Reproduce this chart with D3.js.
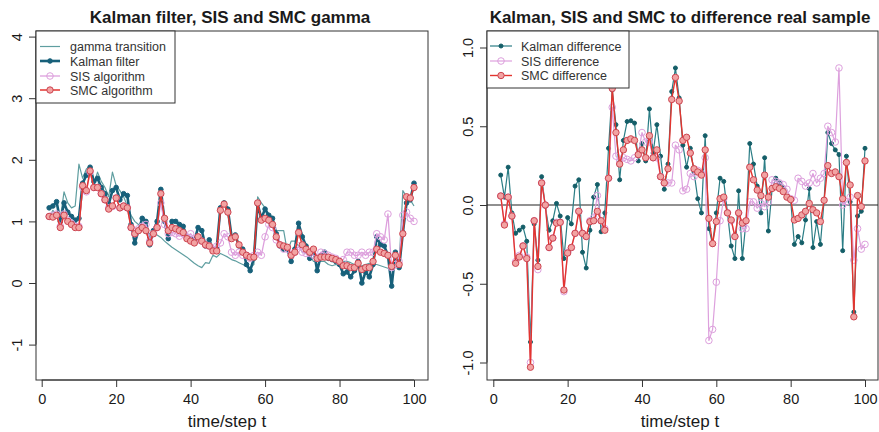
<!DOCTYPE html>
<html>
<head>
<meta charset="utf-8">
<script src="https://cdn.jsdelivr.net/npm/d3@7"></script>
<style>
  body { margin: 0; background: #fff; }
  svg text { font-family: "Liberation Sans", Arial, sans-serif; fill: #1a1a1a; }
</style>
</head>
<body>
<div id="chart"></div>
<script>

// time steps t = 2..100
const steps = d3.range(2, 101)

// left panel: gamma estimates
const gammaTransition = [
    1.05, 1.18, 1.1, 1.05, 1.48, 1.3, 1.22, 1.25, 1.93, 1.7,
    1.85, 1.9, 1.6, 1.8, 1.65, 1.55, 1.4, 1.8, 1.58, 1.5,
    1.4, 1.25, 1.1, 1.0, 0.95, 0.88, 0.85, 0.8, 0.82, 0.78,
    0.74, 0.68, 0.63, 0.58, 0.54, 0.5, 0.46, 0.42, 0.37, 0.32,
    0.28, 0.25, 0.33, 0.32, 0.45, 0.42, 0.48, 0.45, 0.42, 0.38,
    0.36, 0.33, 0.3, 0.27, 0.25, 0.3, 1.4, 1.3, 1.22, 0.95,
    0.9, 0.85, 0.85, 0.85, 0.5, 0.68, 0.68, 0.6, 0.5, 0.48,
    0.45, 0.35, 0.38, 0.35, 0.35, 0.3, 0.28, 0.3, 0.28, 0.35,
    0.35, 0.33, 0.3, 0.25, 0.28, 0.3, 0.32, 0.3, 0.3, 0.28,
    0.26, 0.24, 0.22, 0.25, 0.3, 1.5, 1.4, 1.35, 1.25
]
const kalmanFilter = [
    1.22, 1.25, 1.32, 1.0, 1.3, 1.15, 1.08, 1.02, 1.05, 1.62,
    1.75, 1.88, 1.65, 1.7, 1.55, 1.45, 1.28, 1.5, 1.55, 1.35,
    1.45, 1.42, 0.95, 0.65, 0.85, 1.05, 1.0, 0.62, 0.85, 1.0,
    1.52, 1.0, 0.72, 1.0, 1.0, 0.95, 0.92, 0.75, 0.72, 0.68,
    0.9, 0.85, 0.6, 0.7, 0.55, 0.55, 1.22, 1.3, 1.2, 0.75,
    0.78, 0.6, 0.55, 0.3, 0.2, 0.4, 1.28, 1.05, 1.2, 1.1,
    1.05, 0.8, 0.6, 0.55, 0.55, 0.35, 0.55, 0.97, 0.75, 0.6,
    0.4, 0.55, 0.2, 0.45, 0.5, 0.4, 0.38, 0.35, 0.3, 0.15,
    0.18, 0.1, 0.2, 0.35, 0.0, 0.18, 0.1, 0.3, 0.75, 0.62,
    0.6, 0.45, -0.05, 0.5, 0.25, 0.82, 1.3, 1.35, 1.62
]
const sisAlgorithm = [
    1.08, 1.1, 1.12, 0.92, 1.12, 1.02, 0.97, 0.92, 0.92, 1.55,
    1.48, 1.8, 1.55, 1.55, 1.45, 1.35, 1.22, 1.24, 1.38, 1.22,
    1.25, 1.22, 0.9, 0.8, 0.88, 0.92, 0.95, 0.68, 0.8, 0.9,
    1.3, 0.95, 0.8, 0.82, 0.8, 0.76, 0.8, 0.75, 0.8, 0.72,
    0.7, 0.68, 0.62, 0.6, 0.55, 0.6, 0.65, 0.8, 0.75, 0.5,
    0.45, 0.5, 0.45, 0.45, 0.4, 0.45, 0.5, 0.45, 0.75, 0.95,
    0.9, 0.7, 0.62, 0.55, 0.55, 0.45, 0.5, 0.6, 0.5, 0.48,
    0.48, 0.45, 0.4, 0.5, 0.48, 0.45, 0.42, 0.4, 0.35, 0.38,
    0.5, 0.5, 0.45, 0.45, 0.5, 0.45, 0.5, 0.5, 0.8, 0.75,
    0.7, 1.12, 0.25, 0.3, 0.35, 1.1, 1.15, 1.05, 1.0
]
const smcAlgorithm = [
    1.08, 1.07, 1.1, 0.9, 1.1, 1.0, 0.95, 0.9, 0.9, 1.58,
    1.5, 1.82, 1.55, 1.55, 1.45, 1.35, 1.2, 1.25, 1.38, 1.22,
    1.25, 1.22, 0.9, 0.8, 0.85, 0.9, 0.85, 0.65, 0.8, 0.9,
    1.45, 1.05, 0.85, 0.9, 0.88, 0.85, 0.82, 0.72, 0.68, 0.65,
    0.75, 0.68, 0.62, 0.6, 0.52, 0.52, 1.18, 1.28, 1.15, 0.72,
    0.75, 0.62, 0.5, 0.45, 0.42, 0.42, 1.3, 1.02, 1.05, 1.02,
    0.95, 0.75, 0.62, 0.6, 0.58, 0.45, 0.5, 0.82, 0.62, 0.55,
    0.5, 0.55, 0.4, 0.42, 0.42, 0.42, 0.4, 0.38, 0.35, 0.28,
    0.28, 0.25, 0.25, 0.32, 0.22, 0.25, 0.25, 0.35, 0.55, 0.5,
    0.48, 0.45, 0.27, 0.45, 0.3, 0.8, 1.4, 1.38, 1.55
]

// right panel: differences to the real sample
const kalmanDiff = [
    0.19, 0.05, 0.24, -0.05, -0.18, -0.16, -0.14, -0.23, -0.87, -0.12,
    -0.35, 0.18, -0.01, -0.16, -0.1, 0.01, -0.07, -0.34, -0.08, -0.12,
    0.12, 0.16, -0.3, -0.4, -0.16, 0.05, 0.13, -0.17, -0.05, 0.36,
    0.73, 0.51, 0.16, 0.41, 0.53, 0.535, 0.52, 0.28, 0.39, 0.28,
    0.61, 0.33, 0.51, 0.31, 0.1, 0.26, 0.72, 0.87, 0.68, 0.38,
    0.24, 0.36, 0.21, 0.04, -0.05, 0.44, -0.15, -0.25, -0.05, 0.17,
    0.15, -0.05, -0.26, -0.34, 0.09, -0.34, -0.1, 0.39, 0.26, 0.12,
    -0.05, 0.3, -0.165, 0.1, 0.17, 0.14, 0.11, 0.05, 0.03, -0.25,
    -0.2, -0.24, -0.095, 0.105, -0.27, -0.105, -0.25, 0.03, 0.46, 0.39,
    0.35, 0.32, -0.29, 0.31, 0.02, -0.68, -0.07, -0.04, 0.36
]
const sisDiff = [
    0.057, -0.12, 0.05, -0.07, -0.36, -0.32, -0.26, -0.33, -1.0, -0.1,
    -0.41, 0.14, 0.0, -0.27, -0.21, -0.11, -0.11, -0.55, -0.3, -0.27,
    -0.18, -0.04, -0.18, -0.2, -0.1, -0.08, 0.06, -0.1, -0.15, 0.17,
    0.62, 0.31, 0.28, 0.3, 0.29, 0.28, 0.3, 0.32, 0.46, 0.4,
    0.4, 0.3, 0.3, 0.18, 0.14, 0.14, 0.14, 0.38, 0.35, 0.09,
    0.1, 0.2, 0.18, 0.22, 0.2, 0.3, -0.86, -0.79, -0.49, -0.1,
    0.04, -0.05, -0.1, -0.2, -0.05, -0.15, -0.15, 0.02, 0.02, -0.02,
    0.01, -0.01, 0.02, 0.16, 0.15, 0.14, 0.13, 0.1, 0.04, 0.03,
    0.17, 0.15, 0.12, 0.14, 0.2, 0.14, 0.17, 0.2, 0.5, 0.46,
    0.4, 0.87, 0.0, 0.02, 0.05, -0.35, -0.15, -0.28, -0.25
]
const smcDiff = [
    0.057, -0.127, 0.05, -0.07, -0.37, -0.33, -0.26, -0.34, -1.03, -0.1,
    -0.39, 0.14, 0.0, -0.27, -0.21, -0.115, -0.11, -0.54, -0.305, -0.27,
    -0.18, -0.04, -0.18, -0.2, -0.106, -0.1, -0.04, -0.1, -0.16, 0.17,
    0.74, 0.46, 0.26, 0.35, 0.41, 0.42, 0.41, 0.32, 0.35, 0.3,
    0.44, 0.3, 0.35, 0.18, 0.14, 0.23, 0.67, 0.81, 0.66, 0.41,
    0.43, 0.33, 0.23, 0.21, 0.19, 0.35, -0.085, -0.245, -0.105, 0.04,
    0.05, -0.05, -0.095, -0.2, -0.05, -0.115, -0.1, 0.24, 0.16, 0.095,
    0.06, 0.19, 0.05, 0.105, 0.116, 0.105, 0.085, 0.05, 0.035, -0.095,
    -0.085, -0.063, -0.04, 0.01, -0.03, -0.05, -0.105, 0.03, 0.25, 0.2,
    0.21, 0.18, 0.04, 0.27, 0.127, -0.71, 0.06, -0.01, 0.28
]

const xTicks = [0, 20, 40, 60, 80, 100]
const yTicksLeft = [-1, 0, 1, 2, 3, 4]
const yTicksRight = [-1, -0.5, 0, 0.5, 1]

// colours
const cGamma = "#5f9ea0"
const cKalman = "#17607a"
const cKalmanDiff = "#2a7d85"
const cSis = "#dda0dd"
const cSmc = "#e3352f"

const svg = d3.select('#chart').append('svg')
    .attr('width', 879)
    .attr('height', 432)

function drawPanel(p){

    let x = d3.scaleLinear().domain([0, 100]).range(p.xRange)
    let y = d3.scaleLinear().domain(p.yDomain).range(p.yRange)
    let b = p.box

    // plot frame
    svg.append('rect')
        .attr('x', b.left).attr('y', b.top)
        .attr('width', b.right - b.left).attr('height', b.bottom - b.top)
        .attr('fill', 'none').attr('stroke', '#333').attr('stroke-width', 1)

    // x axis
    let gx = svg.append('g')
        .attr('transform', `translate(0,${b.bottom})`)
        .call(d3.axisBottom(x).tickValues(xTicks).tickSize(7).tickPadding(7))
        .attr('font-size', 14.5)
        .attr('font-family', '"Liberation Sans", Arial, sans-serif')
    gx.select('.domain').attr('d', `M${x(0)},0H${x(100)}`).attr('stroke', '#333')
    gx.selectAll('line').attr('stroke', '#333')

    // y axis, labels parallel to the axis like base R
    let gy = svg.append('g')
        .attr('transform', `translate(${b.left},0)`)
        .call(d3.axisLeft(y).tickValues(p.yTicks).tickSize(7).tickFormat(p.fmt))
        .attr('font-size', 14.5)
        .attr('font-family', '"Liberation Sans", Arial, sans-serif')
    gy.select('.domain')
        .attr('d', `M0,${y(p.yTicks[0])}V${y(p.yTicks[p.yTicks.length - 1])}`)
        .attr('stroke', '#333')
    gy.selectAll('line').attr('stroke', '#333')
    gy.selectAll('text')
        .attr('transform', 'rotate(-90)')
        .attr('x', 0)
        .attr('y', -14)
        .attr('dy', 0)
        .attr('text-anchor', 'middle')

    // titles
    svg.append('text')
        .attr('x', p.titleX).attr('y', 22.5)
        .attr('text-anchor', 'middle')
        .style('font-size', '17px')
        .style('font-weight', 'bold')
        .text(p.title)

    svg.append('text')
        .attr('x', p.labelX).attr('y', 427)
        .attr('text-anchor', 'middle')
        .style('font-size', '17px')
        .text('time/step t')

    let plot = svg.append('g')

    if (p.zeroLine){
        plot.append('line')
            .attr('x1', b.left).attr('x2', b.right)
            .attr('y1', y(0)).attr('y2', y(0))
            .attr('stroke', '#222').attr('stroke-width', 1.2)
    }

    // series
    p.series.forEach(s => {
        let pts = steps.map((t, i) => [t, s.values[i]])
        let line = d3.line().x(d => x(d[0])).y(d => y(d[1]))

        plot.append('path')
            .datum(pts)
            .attr('d', line)
            .attr('fill', 'none')
            .attr('stroke', s.color)
            .attr('stroke-width', s.width)
            .attr('stroke-linejoin', 'round')

        if (s.r){
            plot.append('g')
                .selectAll('circle')
                .data(pts)
                .enter()
                .append('circle')
                .attr('cx', d => x(d[0]))
                .attr('cy', d => y(d[1]))
                .attr('r', s.r)
                .attr('fill', s.fill)
                .attr('stroke', s.stroke)
                .attr('stroke-width', 1)
        }
    })

    // legend
    let lg = p.legend
    let leg = svg.append('g')
    leg.append('rect')
        .attr('x', lg.x).attr('y', lg.y)
        .attr('width', lg.w).attr('height', lg.h)
        .attr('fill', '#fff').attr('stroke', '#333')

    p.series.forEach((s, i) => {
        let ly = lg.rows[i]
        leg.append('line')
            .attr('x1', lg.x1).attr('x2', lg.x2)
            .attr('y1', ly).attr('y2', ly)
            .attr('stroke', s.color)
            .attr('stroke-width', s.width)
        if (s.r){
            leg.append('circle')
                .attr('cx', (lg.x1 + lg.x2) / 2).attr('cy', ly)
                .attr('r', s.r)
                .attr('fill', s.fill)
                .attr('stroke', s.stroke)
        }
        leg.append('text')
            .attr('x', lg.tx).attr('y', ly + 4.5)
            .style('font-size', '12.5px')
            .style('fill', '#333')
            .text(s.name)
    })
}

drawPanel({
    title: 'Kalman filter, SIS and SMC gamma',
    titleX: 230,
    labelX: 227,
    box: {left: 36, right: 428, top: 31, bottom: 380},
    xRange: [41.7, 414],
    yDomain: [0, 4],
    yRange: [283, 36.6],
    yTicks: yTicksLeft,
    fmt: d => String(d),
    zeroLine: false,
    legend: {x: 36, y: 31, w: 139, h: 72, rows: [46.5, 61, 76, 90], x1: 40, x2: 60, tx: 70},
    series: [
        {name: 'gamma transition', values: gammaTransition, color: cGamma, width: 1.2},
        {name: 'Kalman filter', values: kalmanFilter, color: cKalman, width: 2.6, r: 2.3, fill: cKalman, stroke: cKalman},
        {name: 'SIS algorithm', values: sisAlgorithm, color: cSis, width: 1.3, r: 3.3, fill: 'none', stroke: cSis},
        {name: 'SMC algorithm', values: smcAlgorithm, color: cSmc, width: 1.5, r: 3.2, fill: '#f2a3a3', stroke: '#cc4450'}
    ]
})

drawPanel({
    title: 'Kalman, SIS and SMC to difference real sample',
    titleX: 680,
    labelX: 680,
    box: {left: 487, right: 878, top: 31, bottom: 380},
    xRange: [493.3, 865],
    yDomain: [-1, 1],
    yRange: [362.5, 47.5],
    yTicks: yTicksRight,
    fmt: d => d.toFixed(1),
    zeroLine: true,
    legend: {x: 487, y: 31, w: 142, h: 57, rows: [46, 61, 75.5], x1: 490, x2: 512, tx: 521},
    series: [
        {name: 'Kalman difference', values: kalmanDiff, color: cKalmanDiff, width: 1.2, r: 2, fill: '#145e68', stroke: '#145e68'},
        {name: 'SIS difference', values: sisDiff, color: cSis, width: 1.2, r: 3.3, fill: 'none', stroke: cSis},
        {name: 'SMC difference', values: smcDiff, color: cSmc, width: 1.4, r: 3.2, fill: '#f2a3a3', stroke: '#cc4450'}
    ]
})

</script>
</body>
</html>
